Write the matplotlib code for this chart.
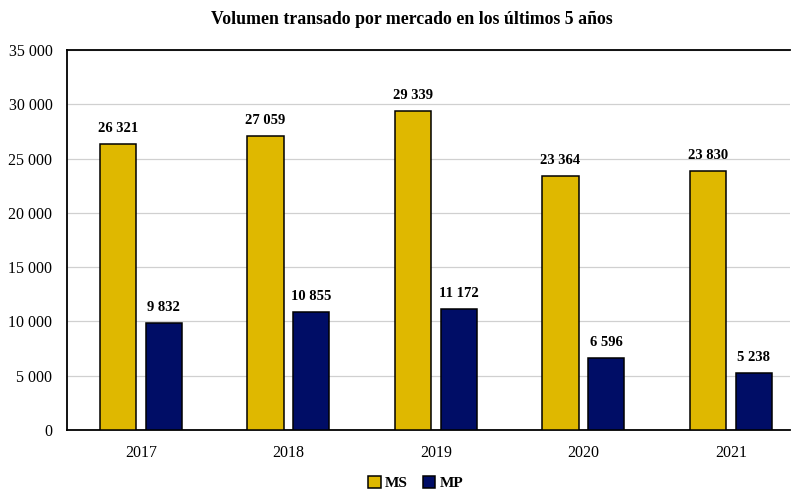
import matplotlib
matplotlib.use("Agg")
import matplotlib.pyplot as plt
import numpy as np

years = ["2017", "2018", "2019", "2020", "2021"]
ms = [26321, 27059, 29339, 23364, 23830]
mp = [9832, 10855, 11172, 6596, 5238]
yticks = [0, 5000, 10000, 15000, 20000, 25000, 30000, 35000]

plt.rcParams['font.family'] = ['Liberation Serif', 'DejaVu Serif']

def fmt(v):
    return f"{v:,}".replace(",", " ")

fig = plt.figure(figsize=(7.91, 4.90), dpi=100)
ax = fig.add_axes([67/791, 60/490, (790-67)/791, 380/490])
x = np.arange(len(years))
w = 0.245
off = 0.155
c_ms = "#DFB800"
c_mp = "#000D66"
b1 = ax.bar(x - off, ms, w, color=c_ms, edgecolor="black", linewidth=1.1, label="MS", zorder=3)
b2 = ax.bar(x + off, mp, w, color=c_mp, edgecolor="black", linewidth=1.1, label="MP", zorder=3)
for rect, v in zip(b1, ms):
    ax.annotate(fmt(v), (rect.get_x() + rect.get_width()/2, v), xytext=(0, 6.5), textcoords="offset points",
                ha="center", va="bottom", fontsize=10.5, fontweight="bold")
for rect, v in zip(b2, mp):
    ax.annotate(fmt(v), (rect.get_x() + rect.get_width()/2, v), xytext=(0, 6.5), textcoords="offset points",
                ha="center", va="bottom", fontsize=10.5, fontweight="bold")

ax.set_xlim(-0.5, 4.40)
ax.set_ylim(0, 35000)
ax.set_yticks(yticks)
ax.set_yticklabels([fmt(t) for t in yticks], fontsize=11.5)
ax.set_xticks(x)
ax.set_xticklabels(years, fontsize=11.5)
ax.tick_params(axis="both", length=0)
ax.tick_params(axis="x", pad=11)
ax.tick_params(axis="y", pad=10.5)
ax.yaxis.grid(True, color="#d0d0d0", linewidth=0.9, zorder=0)
ax.set_axisbelow(True)
for s in ["left", "bottom", "top"]:
    ax.spines[s].set_color("black")
    ax.spines[s].set_linewidth(1.3)
ax.spines["right"].set_visible(False)

fig.text(412/791, 1 - 19/490, "Volumen transado por mercado en los últimos 5 años", ha="center", va="center",
         fontsize=12.8, fontweight="bold")
leg = fig.legend(handles=[b1, b2], labels=["MS", "MP"], loc="center", bbox_to_anchor=(416/791, 1 - 483/490),
                 ncol=2, frameon=False, handlelength=0.8, handleheight=0.8, handletextpad=0.3, columnspacing=1.0,
                 prop={"weight": "bold", "size": 11})
fig.savefig("out.png", dpi=100)
